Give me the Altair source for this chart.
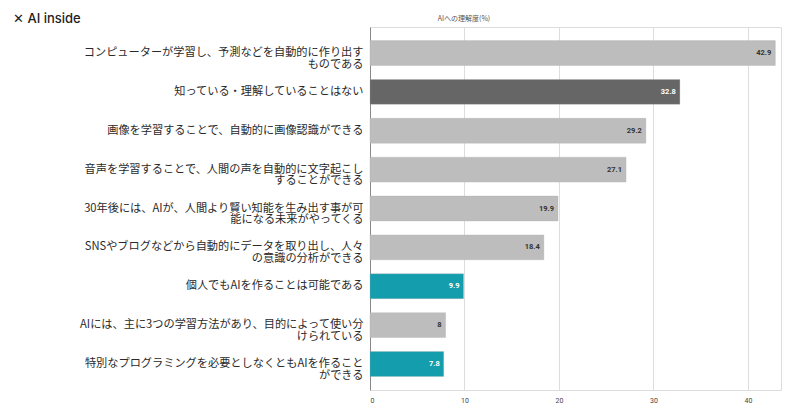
import altair as alt
import pandas as pd

categories = [
    "コンピューターが学習し、予測などを自動的に作り出す\nものである",
    "知っている・理解していることはない",
    "画像を学習することで、自動的に画像認識ができる",
    "音声を学習することで、人間の声を自動的に文字起こし\nすることができる",
    "30年後には、AIが、人間より賢い知能を生み出す事が可\n能になる未来がやってくる",
    "SNSやブログなどから自動的にデータを取り出し、人々\nの意識の分析ができる",
    "個人でもAIを作ることは可能である",
    "AIには、主に3つの学習方法があり、目的によって使い分\nけられている",
    "特別なプログラミングを必要としなくともAIを作ること\nができる",
]
values = [42.9, 32.8, 29.2, 27.1, 19.9, 18.4, 9.9, 8, 7.8]
groups = ["light", "dark", "light", "light", "light", "light", "teal", "light", "teal"]
x_ticks = [0, 10, 20, 30, 40]

df = pd.DataFrame({"category": categories, "value": values, "group": groups})

FONT = "Noto Sans CJK JP"

bar_color = alt.Color(
    "group:N",
    scale=alt.Scale(domain=["light", "dark", "teal"], range=["#bdbdbd", "#666666", "#149dad"]),
    legend=None,
)

y_enc = alt.Y(
    "category:N",
    sort=categories,
    title=None,
    scale=alt.Scale(paddingInner=0.36, paddingOuter=0.35),
    axis=alt.Axis(
        labelExpr="split(datum.value, '\\n')",
        labelFont=FONT,
        labelFontSize=11.2,
        labelColor="#2a2a2a",
        labelLineHeight=11.8,
        labelPadding=7,
        labelLimit=400,
        ticks=False,
        domain=True,
        domainColor="#888888",
        domainWidth=1,
        grid=False,
    ),
)

x_enc = alt.X(
    "value:Q",
    title=None,
    scale=alt.Scale(domain=[0, 43.5], nice=False),
    axis=alt.Axis(
        values=x_ticks,
        labelFontSize=7,
        labelColor="#444444",
        labelFont="Roboto",
        ticks=False,
        domain=False,
        grid=True,
        gridColor="#dddddd",
        labelPadding=6,
    ),
)

bars = alt.Chart(df).mark_bar(stroke="#aaaaaa", strokeWidth=0.5, strokeOpacity=0.6).encode(
    x=x_enc, y=y_enc, color=bar_color
)

labels = alt.Chart(df).mark_text(
    align="right", baseline="middle", dx=-4, fontSize=7.5, fontWeight="bold", font="Roboto"
).encode(
    x="value:Q",
    y=alt.Y("category:N", sort=categories),
    text=alt.Text("value:Q"),
    fill=alt.condition("datum.group == 'light'", alt.value("#333333"), alt.value("#ffffff")),
)

logo = alt.Chart(pd.DataFrame({"t": ["✕ AI inside"]})).mark_text(
    align="left", baseline="middle", fontSize=13, fontWeight=500, font="Inter", color="#222222"
).encode(x=alt.value(-357), y=alt.value(-8), text="t:N")

axis_title = alt.Chart(pd.DataFrame({"t": ["AIへの理解度(%)"]})).mark_text(
    align="center", baseline="middle", fontSize=7, font=FONT, color="#555555"
).encode(x=alt.value(94), y=alt.value(-8), text="t:N")

chart = alt.layer(bars, labels, logo, axis_title).properties(
    width=411,
    height=363,
    autosize=alt.AutoSizeParams(type="none"),
    padding={"left": 362, "top": 19, "right": 10, "bottom": 20},
).configure_view(stroke=None).configure(background="white")

chart.save("out.html", embed_options={"renderer": "svg", "actions": False})
